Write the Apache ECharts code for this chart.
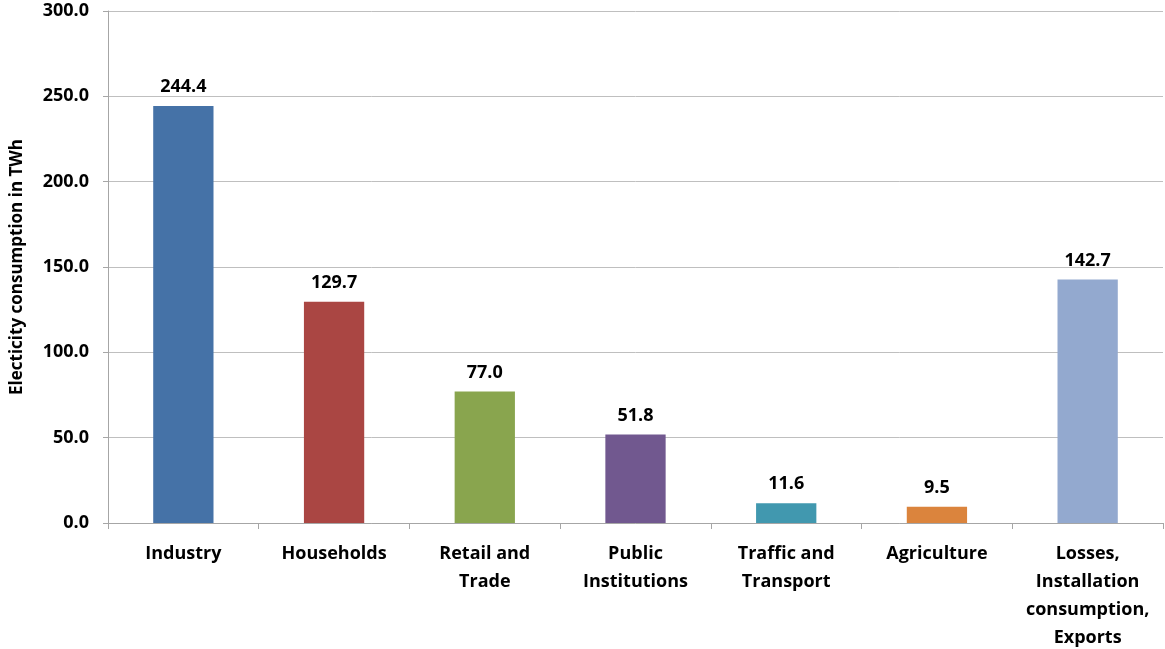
<!DOCTYPE html>
<html>
<head>
<meta charset="utf-8">
<script src="https://cdn.jsdelivr.net/npm/echarts@6/dist/echarts.min.js"></script>
<style>
  html, body { margin: 0; padding: 0; background: #ffffff; }
  #chart { width: 1165px; height: 649px; }
</style>
</head>
<body>
<div id="chart"></div>
<script>
// Electricity consumption by sector (TWh)
const categories = [
  'Industry',
  'Households',
  'Retail and\nTrade',
  'Public\nInstitutions',
  'Traffic and\nTransport',
  'Agriculture',
  'Losses,\nInstallation\nconsumption,\nExports'
];
const consumption = [244.4, 129.7, 77.0, 51.8, 11.6, 9.5, 142.7];
const barColors = ['#4572A7', '#AA4643', '#89A54E', '#71588F', '#4198AF', '#DB843D', '#93A9CF'];
const yTicks = { min: 0, max: 300, interval: 50 };

const fontFamily = '"Open Sans", "Liberation Sans", sans-serif';

const chart = echarts.init(document.getElementById('chart'));
chart.setOption({
  animation: false,
  grid: { left: 108, right: 2, top: 11, bottom: 126, containLabel: false, outerBoundsMode: 'none' },
  xAxis: {
    type: 'category',
    data: categories,
    axisLine: { lineStyle: { color: '#a6a6a6', width: 1 } },
    axisTick: { show: true, length: 6, lineStyle: { color: '#a6a6a6' } },
    axisLabel: {
      color: '#000000',
      fontFamily: fontFamily,
      fontWeight: 'bold',
      fontSize: 18,
      lineHeight: 28,
      margin: 17,
      interval: 0
    }
  },
  yAxis: {
    type: 'value',
    min: yTicks.min,
    max: yTicks.max,
    interval: yTicks.interval,
    name: 'Electicity consumption in TWh',
    nameLocation: 'middle',
    nameGap: 82,
    nameTextStyle: {
      color: '#000000',
      fontFamily: fontFamily,
      fontWeight: 'bold',
      fontSize: 17
    },
    axisLine: { show: true, lineStyle: { color: '#a6a6a6' } },
    axisTick: { show: true, length: 5, lineStyle: { color: '#a6a6a6' } },
    splitLine: { lineStyle: { color: '#bfbfbf', width: 1 } },
    axisLabel: {
      color: '#000000',
      fontFamily: fontFamily,
      fontWeight: 'bold',
      fontSize: 18,
      margin: 19,
      formatter: v => v.toFixed(1)
    }
  },
  series: [{
    type: 'bar',
    data: consumption.map((v, i) => ({ value: v, itemStyle: { color: barColors[i] } })),
    barWidth: '40%',
    label: {
      show: true,
      position: 'top',
      distance: 10,
      color: '#000000',
      fontFamily: fontFamily,
      fontWeight: 'bold',
      fontSize: 18,
      formatter: p => p.value.toFixed(1)
    }
  }]
});
</script>
</body>
</html>
